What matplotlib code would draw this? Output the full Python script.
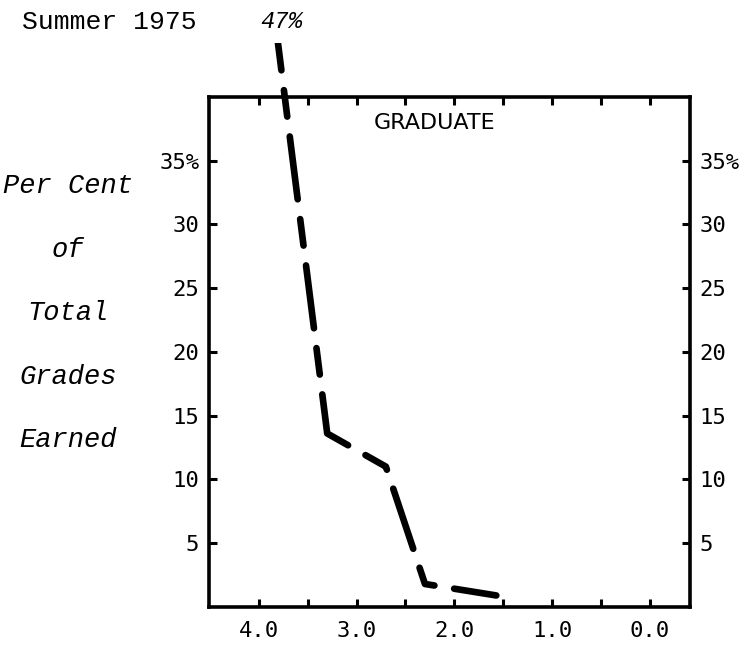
import matplotlib
matplotlib.use("Agg")
import matplotlib.pyplot as plt
from matplotlib.transforms import Bbox, TransformedBbox, blended_transform_factory

# grade point vs per cent of total grades earned (graduate courses)
grade_pts = [3.85, 3.3, 2.7, 2.3, 1.57]
pct_grades = [47, 13.6, 11.0, 1.8, 0.9]

y_ticks = [5, 10, 15, 20, 25, 30, 35]
y_labels = ["5", "10", "15", "20", "25", "30", "35%"]
x_ticks = [4.0, 3.0, 2.0, 1.0, 0.0]
x_minor = [3.5, 2.5, 1.5, 0.5]
x_labels = ["4.0", "3.0", "2.0", "1.0", "0.0"]
side_words = ["Per Cent", "of", "Total", "Grades", "Earned"]

fig = plt.figure(figsize=(7.49, 6.45), dpi=100)
ax = fig.add_axes([0.279, 0.059, 0.642, 0.791])
ax.set_xlim(4.51, -0.41)
ax.set_ylim(0, 40)

for s in ax.spines.values():
    s.set_linewidth(2.6)

ax.set_xticks(x_ticks)
ax.set_xticklabels(x_labels, family="DejaVu Sans Mono", fontsize=16)
ax.set_xticks(x_minor, minor=True)
ax.set_yticks(y_ticks)
ax.set_yticklabels(y_labels, family="DejaVu Sans Mono", fontsize=16)
ax.tick_params(axis="both", which="both", direction="in", length=6, width=2.2,
               top=True, right=True, labelright=True)
ax.tick_params(axis="x", pad=10)
ax.tick_params(axis="y", pad=7)
for t in ax.yaxis.get_major_ticks():
    t.label2.set_family("DejaVu Sans Mono")
    t.label2.set_fontsize(16)

# thick hand-drawn style dashed curve, allowed to run a bit above the frame
line, = ax.plot(grade_pts, pct_grades, color="black", lw=4.8,
                solid_capstyle="round", dash_capstyle="round",
                dashes=(9.5, 3, 4, 3))
yclip = blended_transform_factory(ax.transAxes, ax.transData)
line.set_clip_box(TransformedBbox(Bbox([[0, 0], [1, 44.2]]), yclip))

ax.annotate(f"{pct_grades[0]:.0f}%", xy=(grade_pts[0], pct_grades[0]),
            xytext=(6, -10), textcoords="offset points", ha="center", va="center",
            family="Liberation Mono", style="italic", fontsize=17,
            annotation_clip=False)

ax.text(0.47, 0.948, "GRADUATE", transform=ax.transAxes, ha="center",
        va="center", family="DejaVu Sans", fontsize=16)

fig.text(22 / 749, 1 - 22 / 645, "Summer 1975", ha="left", va="center",
         family="Liberation Mono", fontsize=19)

for i, w in enumerate(side_words):
    fig.text(68 / 749, 1 - (186 + 63.6 * i) / 645, w, ha="center", va="center",
             family="Liberation Mono", style="italic", fontsize=19.5)

fig.savefig("out.png", dpi=100)
